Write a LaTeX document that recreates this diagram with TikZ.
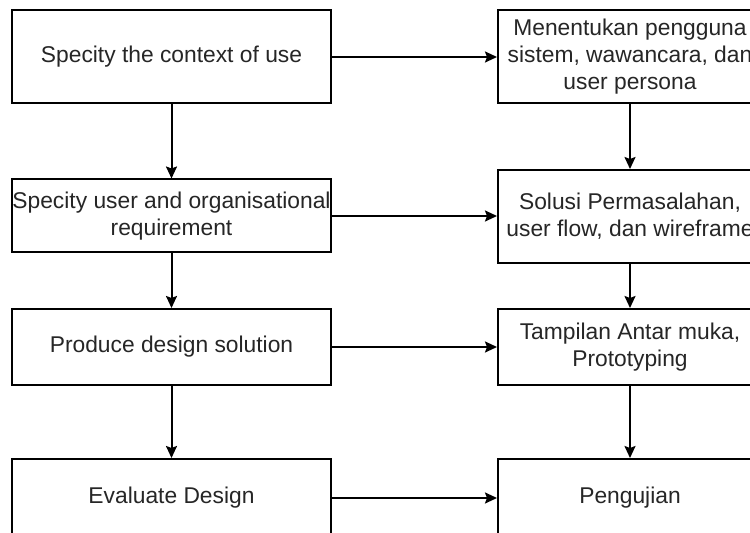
\documentclass[tikz,border=0pt]{standalone}
\usepackage{fontspec}
\setmainfont{Liberation Sans}
\usetikzlibrary{arrows.meta}
\begin{document}
\begin{tikzpicture}[x=1pt,y=1pt,
  box/.style={draw=black,line width=2pt,fill=white,align=center,inner sep=0pt,
    font=\fontsize{22.8}{27}\selectfont,text=black!85},
  lbox/.style={box,minimum width=319pt},
  rbox/.style={box,minimum width=264pt},
  conn/.style={line width=2pt,-{Stealth[length=12pt,width=11pt,inset=2pt]}}]
\useasboundingbox (0,0) rectangle (750,533);
\clip (0,0) rectangle (750,533);
\fill[white] (0,0) rectangle (750,533);
% left column
\node[lbox,minimum height=93pt] (l1) at (171.5,476) {Specity the context of use};
\node[lbox,minimum height=73pt] (l2) at (171.5,317) {Specity user and organisational\\requirement};
\node[lbox,minimum height=76pt] (l3) at (171.5,186) {Produce design solution};
\node[lbox,minimum height=78pt] (l4) at (171.5,35) {Evaluate Design};
% right column
\node[rbox,minimum height=93pt] (r1) at (630,476) {Menentukan pengguna\\sistem, wawancara, dan\\user persona};
\node[rbox,minimum height=93pt] (r2) at (630,316.5) {Solusi Permasalahan,\\user flow, dan wireframe};
\node[rbox,minimum height=76pt] (r3) at (630,186) {Tampilan Antar muka,\\Prototyping};
\node[rbox,minimum height=78pt] (r4) at (630,35) {Pengujian};
% vertical connectors
\draw[conn] (l1) -- (l2);
\draw[conn] (l2) -- (l3);
\draw[conn] (l3) -- (l4);
\draw[conn] (r1) -- (r2);
\draw[conn] (r2) -- (r3);
\draw[conn] (r3) -- (r4);
% horizontal connectors
\draw[conn] (l1.east) -- (l1.east -| r1.west);
\draw[conn] (l2.east) -- (l2.east -| r2.west);
\draw[conn] (l3.east) -- (l3.east -| r3.west);
\draw[conn] (l4.east) -- (l4.east -| r4.west);
\end{tikzpicture}
\end{document}
